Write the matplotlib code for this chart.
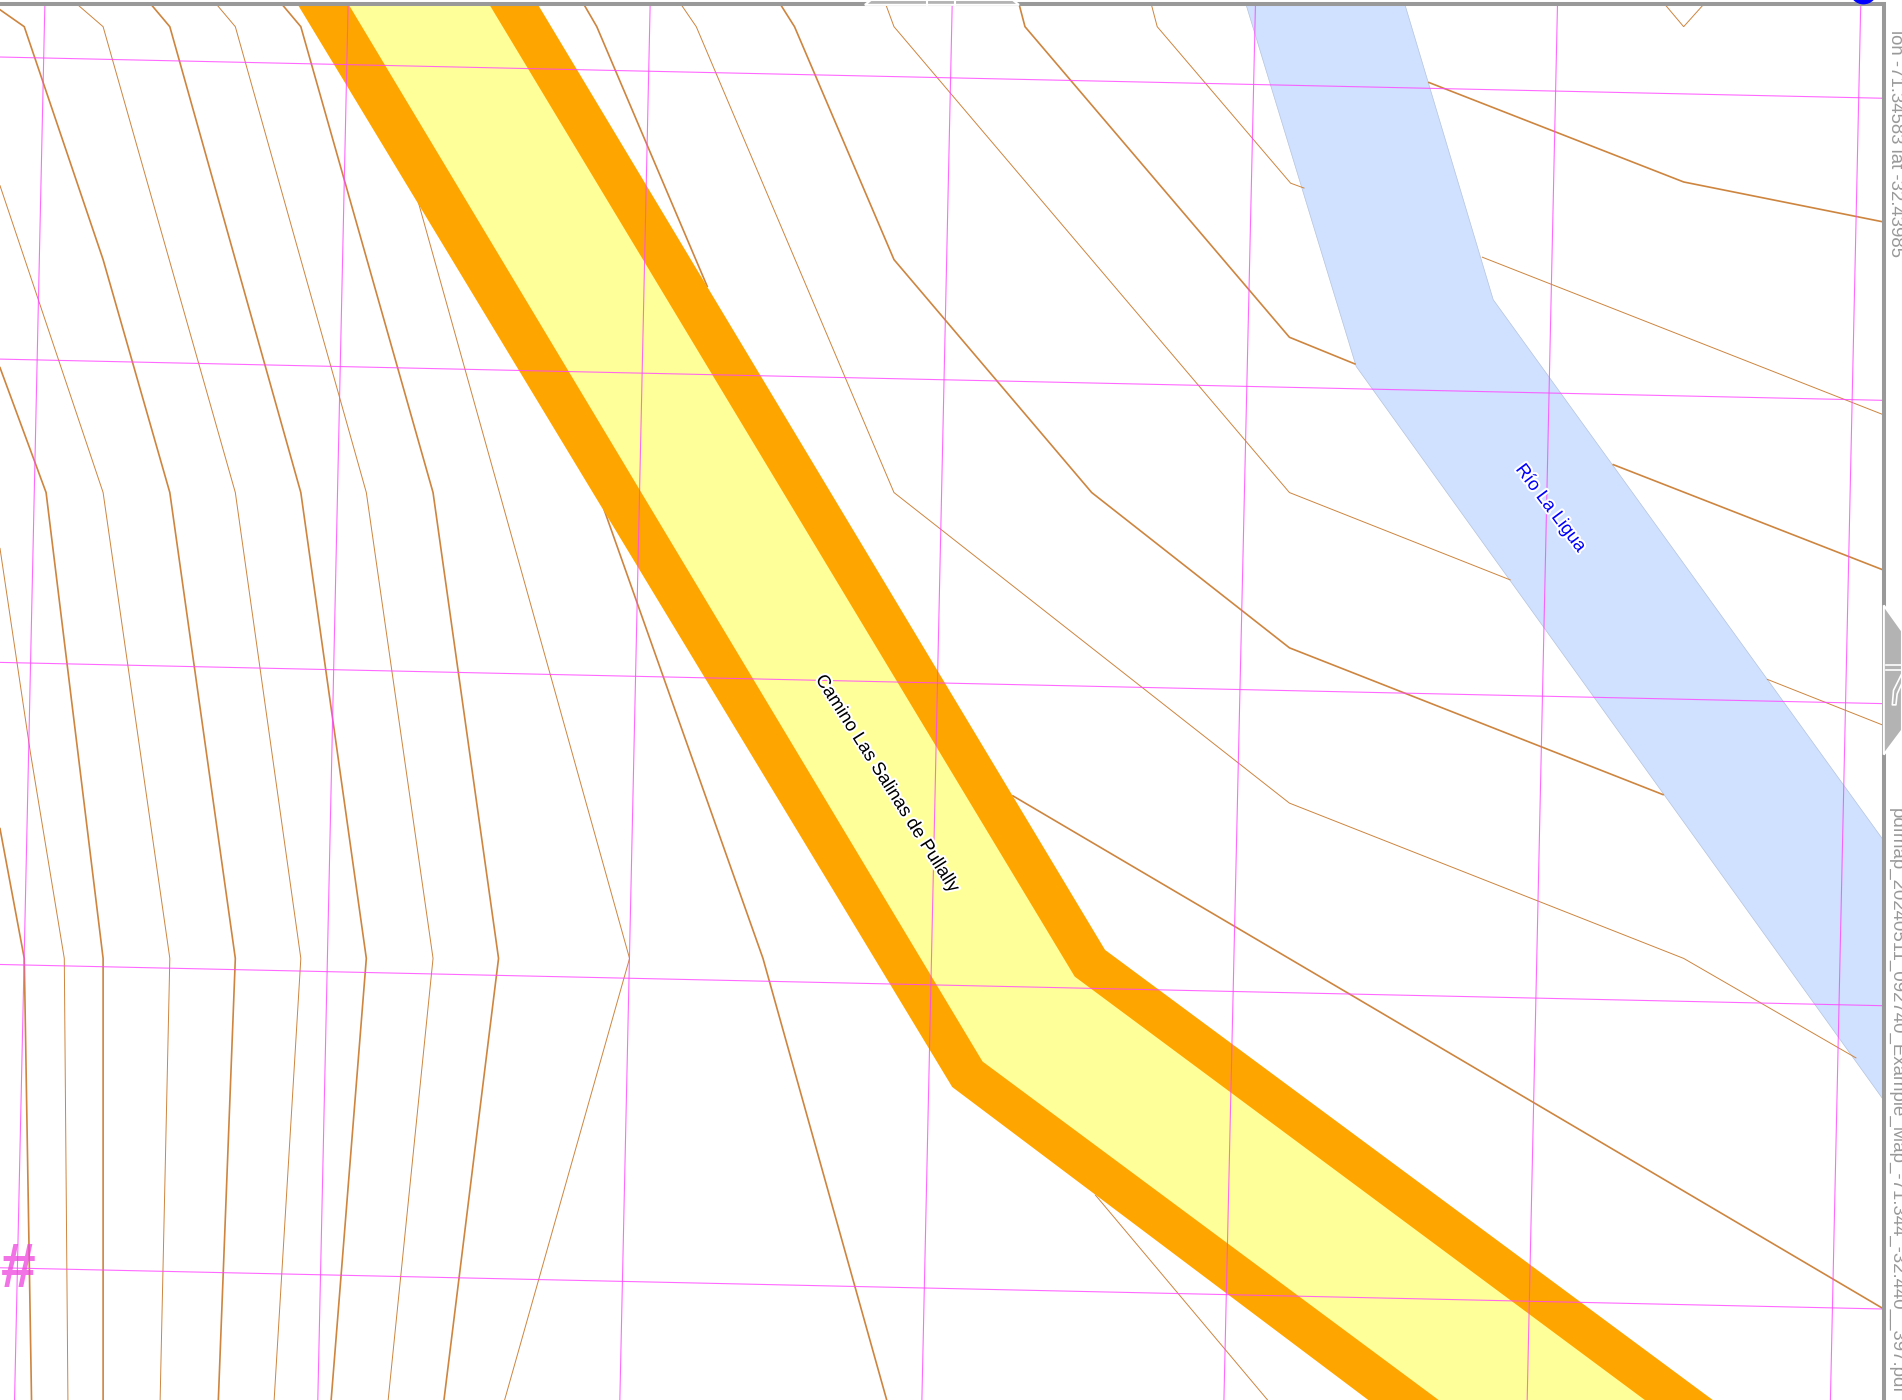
import matplotlib
matplotlib.use('Agg')
import matplotlib.pyplot as plt
from matplotlib import patheffects as pe

plt.rcParams['font.family'] = ['Liberation Sans', 'DejaVu Sans']

# map units: full sheet is 1568 wide, 1154 high
MAP_W, MAP_H = 1568, 1154
FRAME_X, FRAME_Y = 1553, 3

# contour lines, (x list, y list)
major_contours = [
    ([0, 20, 85, 140, 194, 180], [8, 22, 214, 406, 790, 1154]),
    ([124, 140, 248, 302, 273], [3, 22, 406, 790, 1154]),
    ([232, 248, 357, 411, 366], [3, 22, 406, 790, 1154]),
    ([498, 629, 731], [420, 790, 1154]),
    ([481, 492, 583], [3, 22, 236]),
    ([643, 655, 737, 900, 1063, 1371], [3, 22, 214, 406, 534, 655]),
    ([840, 845, 1063, 1117], [3, 22, 278, 300]),
    ([1330, 1553], [383, 470]),
    ([1178, 1388, 1553], [68, 150, 183]),
    ([835, 1117, 1553], [656, 822, 1079]),
    ([0, 38, 85, 85], [303, 406, 790, 1154]),
    ([0, 20, 26], [683, 790, 1154]),
]
minor_contours = [
    ([63, 85, 194, 248, 226], [3, 22, 406, 790, 1154]),
    ([178, 194, 302, 357, 320], [3, 22, 406, 790, 1154]),
    ([343, 519, 416], [160, 790, 1154]),
    ([561, 574, 737, 1063, 1388, 1530], [3, 22, 406, 662, 790, 872]),
    ([730, 737, 1063, 1245], [3, 22, 406, 478]),
    ([1457, 1553], [560, 598]),
    ([949, 954, 1064, 1075], [3, 22, 151, 155]),
    ([1222, 1553], [212, 342]),
    ([1372, 1388, 1405], [3, 22, 3]),
    ([903, 1045], [985, 1154]),
    ([0, 85, 140, 132], [153, 406, 790, 1154]),
    ([0, 25, 53, 56], [452, 620, 790, 1154]),
]

# graticule
grid_h_left = [47, 296, 546, 795, 1045]
grid_h_right = [81, 330, 580, 829, 1079]
grid_v_top = [37, 287, 536, 785, 1035, 1284, 1534]
grid_v_bottom = [12, 262, 511, 760, 1009, 1259, 1509]

# road and river outlines
road_casing_x = [245, 785, 1128, 1412, 911, 443]
road_casing_y = [3, 896, 1154, 1154, 783, 3]
road_fill_x = [287, 810, 1186, 1356, 886, 403]
road_fill_y = [3, 875, 1154, 1154, 805, 3]
river_x = [1027, 1118, 1553, 1553, 1231, 1158]
river_y = [3, 302, 907, 693, 247, 3]

road_label = 'Camino Las Salinas de Pullally'
river_label = 'Río La Ligua'
side_label_top = 'lon -71.34583 lat -32.43985'
side_label_bottom = 'pdfmap_20240511_092740_Example_Map_-71.344_-32.440__397.pdf'

fig = plt.figure(figsize=(19.02, 14), dpi=100)
ax = fig.add_axes([0, 0, 1, 1])
ax.set_xlim(0, MAP_W)
ax.set_ylim(MAP_H, 0)
ax.axis('off')

ax.fill(river_x, river_y, color='#d0e0ff', ec='#b4c4dc', lw=0.5, zorder=1)

for x, y in major_contours:
    ax.plot(x, y, color='#cd853f', lw=1.2, zorder=2, solid_joinstyle='miter')
for x, y in minor_contours:
    ax.plot(x, y, color='#cd853f', lw=0.7, zorder=2, solid_joinstyle='miter')

ax.fill(road_casing_x, road_casing_y, color='#ffa500', lw=0, zorder=3)
ax.fill(road_fill_x, road_fill_y, color='#ffff99', lw=0, zorder=4)

for yl, yr in zip(grid_h_left, grid_h_right):
    ax.plot([0, FRAME_X], [yl, yr], color='#ff44ff', lw=0.8, alpha=0.8, zorder=5)
for xt, xb in zip(grid_v_top, grid_v_bottom):
    ax.plot([xt, xb], [FRAME_Y, MAP_H], color='#ff44ff', lw=0.8, alpha=0.8, zorder=5)

halo = [pe.withStroke(linewidth=3, foreground='white')]
ax.text(731, 646, road_label, rotation=-57.7, rotation_mode='anchor', ha='center', va='center',
        fontsize=13.3, color='black', path_effects=halo, zorder=8)
ax.text(1278, 419, river_label, rotation=-53, rotation_mode='anchor', ha='center', va='center',
        fontsize=13.3, color='blue', path_effects=halo, zorder=8)
ax.text(15, 1047, '#', ha='center', va='center', fontsize=45, fontweight='bold', color='#ee44dd',
        alpha=0.75, zorder=6)

# frame
ax.plot([0, FRAME_X, FRAME_X], [FRAME_Y, FRAME_Y, MAP_H], color='#999999', lw=2.9, zorder=9,
        solid_joinstyle='miter')

# top tab
ax.fill([713, 718, 835, 840], [4, 0, 0, 4], fc='#b3b3b3', ec='white', lw=1.5, zorder=10)
ax.plot([764, 764], [0, 4], color='white', lw=1.5, zorder=11)
ax.plot([787, 787], [0, 4], color='white', lw=1.5, zorder=11)

# side tab
ax.fill([1553, 1568, 1568, 1553], [499, 520, 602, 622], fc='#b3b3b3', ec='white', lw=1.5, zorder=10)
ax.plot([1555, 1568], [548, 548], color='white', lw=1.2, zorder=11)
ax.plot([1555, 1568], [552, 552], color='white', lw=1.2, zorder=11)
ax.plot([1568, 1561, 1560, 1563, 1564, 1568], [555, 569, 581, 581, 572, 563], color='white', lw=1.2, zorder=11)

ax.scatter([1536], [-8], s=400, color='blue', lw=0, zorder=12, clip_on=True)

ax.text(1563, 25, side_label_top, rotation=-90, ha='center', va='top', fontsize=13.4, color='#999999',
        zorder=9)
ax.text(1563, 666, side_label_bottom, rotation=-90, ha='center', va='top', fontsize=13.4, color='#999999',
        zorder=9)

fig.savefig('out.png', dpi=100)
